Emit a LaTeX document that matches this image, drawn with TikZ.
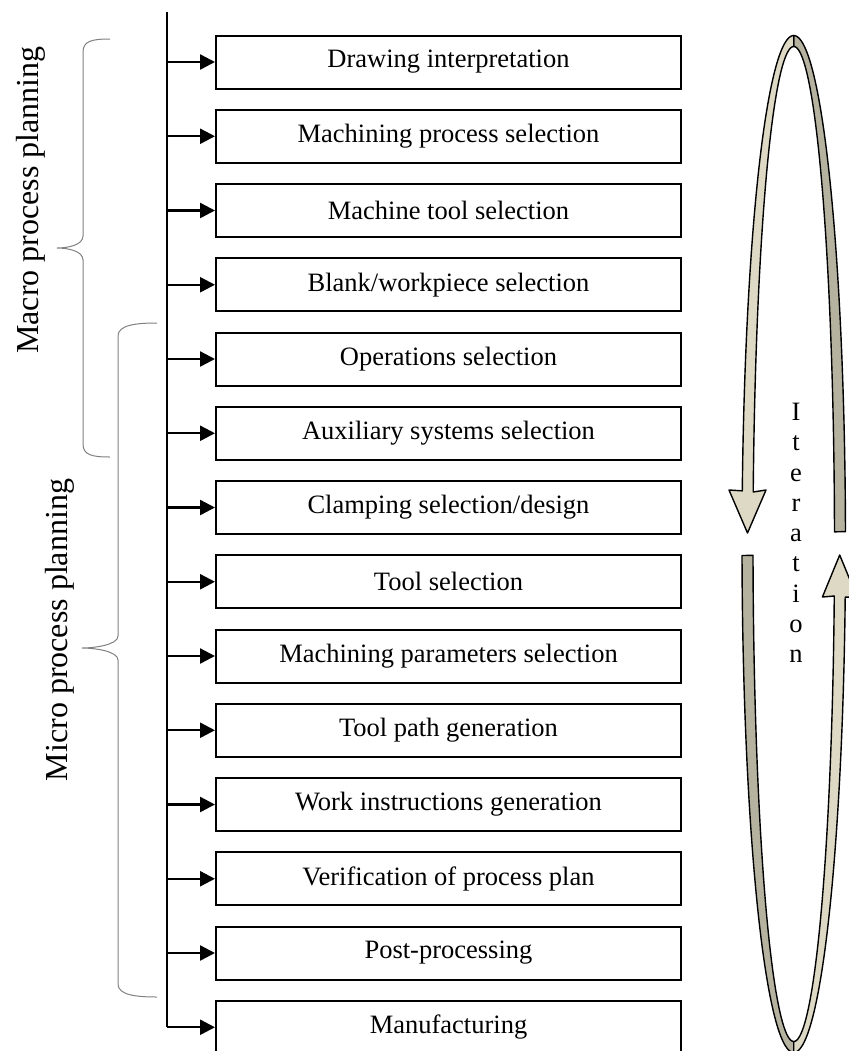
\documentclass[tikz,border=0pt]{standalone}
\usepackage{fontspec}
\setmainfont{Liberation Serif}
\usetikzlibrary{positioning,arrows.meta}

\definecolor{loopfront}{RGB}{222,217,196}
\definecolor{loopback}{RGB}{181,178,160}

\tikzstyle{block} = [rectangle, draw, line width=1pt, fill=white, text centered, minimum width=232.5pt, minimum height=26.5pt, inner sep=0pt, font=\fontsize{13.25}{16}\selectfont]
\tikzstyle{arrow} = [draw, line width=1.2pt, -{Triangle[length=7.5pt,width=7.5pt]}]
\tikzstyle{line} = [draw, line width=1.3pt]
\tikzstyle{brace} = [draw, gray, line width=0.5pt]
\tikzstyle{side} = [rotate=90, inner sep=0pt, font=\fontsize{16}{19}\selectfont]
\tikzstyle{band} = [draw, line width=0.7pt, line join=round]

\begin{document}
\begin{tikzpicture}[x=0.5pt, y=-0.5pt, node distance=37.125pt, auto]
    \useasboundingbox (0,0) rectangle (848,1051);

    \node[block] (drawing) at (448.5,62) {Drawing interpretation};
    \node[block, below of=drawing] (process) {Machining process selection};
    \node[block, below of=process] (machine) {Machine tool selection};
    \node[block, below of=machine] (blank) {Blank/workpiece selection};
    \node[block, below of=blank] (operations) {Operations selection};
    \node[block, below of=operations] (auxiliary) {Auxiliary systems selection};
    \node[block, below of=auxiliary] (clamping) {Clamping selection/design};
    \node[block, below of=clamping] (tool) {Tool selection};
    \node[block, below of=tool] (parameters) {Machining parameters selection};
    \node[block, below of=parameters] (toolpath) {Tool path generation};
    \node[block, below of=toolpath] (instructions) {Work instructions generation};
    \node[block, below of=instructions] (verification) {Verification of process plan};
    \node[block, below of=verification] (post) {Post-processing};
    \node[block, below of=post] (manufacturing) {Manufacturing};

    % trunk
    \coordinate (top) at (167,12);
    \coordinate (bottom) at (top |- manufacturing.west);
    \draw [line] (top) -- (bottom);

    % lines
    \draw [arrow] (top |- drawing.west) to (drawing.west);
    \draw [arrow] (top |- process.west) to (process.west);
    \draw [arrow] (top |- machine.west) to (machine.west);
    \draw [arrow] (top |- blank.west) to (blank.west);
    \draw [arrow] (top |- operations.west) to (operations.west);
    \draw [arrow] (top |- auxiliary.west) to (auxiliary.west);
    \draw [arrow] (top |- clamping.west) to (clamping.west);
    \draw [arrow] (top |- tool.west) to (tool.west);
    \draw [arrow] (top |- parameters.west) to (parameters.west);
    \draw [arrow] (top |- toolpath.west) to (toolpath.west);
    \draw [arrow] (top |- instructions.west) to (instructions.west);
    \draw [arrow] (top |- verification.west) to (verification.west);
    \draw [arrow] (top |- post.west) to (post.west);
    \draw [arrow] (bottom) to (manufacturing.west);

    % braces
    \draw [brace] (110,39) .. controls (92,39) and (83,41) .. (83,52) -- (83,236)
        .. controls (83,245) and (68,248) .. (57,248) .. controls (68,248) and (83,251) .. (83,260)
        -- (83,444) .. controls (83,455) and (92,457) .. (110,457);
    \draw [brace] (157,323) .. controls (136,323) and (118,325) .. (118,336) -- (118,636)
        .. controls (118,645) and (94,648) .. (82,648) .. controls (94,648) and (118,651) .. (118,660)
        -- (118,984) .. controls (118,995) and (136,997) .. (157,997);
    \node[side] (macro) at (31,200) {Macro process planning};
    \node[side] (micro) at (60,630) {Micro process planning};

    % iteration loop
    \draw [band, fill=loopback] plot[domain=270:358.6, samples=80] ({793.75+51.75*cos(\x)},{544+508.5*sin(\x)})
        -- plot[domain=358.6:270, samples=80] ({793.75+40.75*cos(\x)},{544+497.5*sin(\x)}) -- cycle;
    \draw [band, fill=loopback] plot[domain=178.7:90, samples=80] ({793.75+51.75*cos(\x)},{544+508.5*sin(\x)})
        -- plot[domain=90:178.7, samples=80] ({793.75+40.75*cos(\x)},{544+497.5*sin(\x)}) -- cycle;
    \draw [band, fill=loopfront] plot[domain=270:186, samples=80] ({793.75+51.75*cos(\x)},{544+508.5*sin(\x)})
        -- (729,490) -- (747.5,533) -- (766,490)
        -- plot[domain=186:270, samples=80] ({793.75+40.75*cos(\x)},{544+497.5*sin(\x)}) -- cycle;
    \draw [band, fill=loopfront] plot[domain=90:6, samples=80] ({793.75+51.75*cos(\x)},{544+508.5*sin(\x)})
        -- (857,597) -- (839.7,555) -- (822.4,597)
        -- plot[domain=6:90, samples=80] ({793.75+40.75*cos(\x)},{544+497.5*sin(\x)}) -- cycle;
    \node[align=center, inner sep=0pt, font=\fontsize{13.25}{15.15}\selectfont] (iteration) at (796,533) {I\\t\\e\\r\\a\\t\\i\\o\\n};
\end{tikzpicture}
\end{document}
